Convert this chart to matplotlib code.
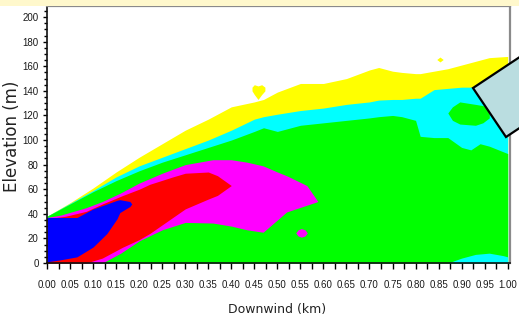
import matplotlib
matplotlib.use("Agg")
import matplotlib.pyplot as plt
from matplotlib import font_manager
from matplotlib.patches import Polygon, Rectangle
import numpy as np

# outer layers (share one x grid), heights in m
x_top = [0.00, 0.05, 0.10, 0.15, 0.20, 0.25, 0.30, 0.35, 0.40, 0.45, 0.47, 0.50,
         0.55, 0.60, 0.65, 0.70, 0.72, 0.75, 0.77, 0.80, 0.81, 0.84, 0.87, 0.90,
         0.92, 0.94, 0.96, 1.00]
yellow_top = [38, 49, 61, 74, 86, 97, 108, 117, 127, 131, 133, 139,
              146, 146, 150, 157, 159, 156, 155, 154, 154, 156, 158, 161,
              163, 165, 167, 168]
cyan_top = [38, 48.5, 59, 70, 79, 86, 93, 100, 108, 117, 119, 121,
            124, 126, 129, 131, 132.5, 133, 133, 134, 134, 141, 142, 143,
            143, 144, 145, 146]
green_top = [38, 48, 58, 67, 75, 82, 88, 94, 100, 107, 110, 107,
             112, 114, 116, 118, 119, 120, 119, 116, 103, 102, 102, 94,
             92, 97, 95, 89]

# plume core
x_mag = [0.0, 0.03, 0.085, 0.12, 0.16, 0.20, 0.25, 0.30, 0.36, 0.40, 0.434,
         0.469, 0.50, 0.52, 0.564, 0.588]
mag_top = [37, 39, 45, 50, 57, 65, 73, 80, 84, 84, 82, 79, 74, 71, 63, 50]
mag_low = [0, 0, 0, 0, 8, 18, 27, 33, 32.5, 30, 27, 25, 35, 41.5, 47, 50]

x_red = [0.0, 0.04, 0.085, 0.12, 0.165, 0.20, 0.223, 0.273, 0.30, 0.35, 0.37, 0.40]
red_top = [36, 38, 42, 48, 55, 60, 64, 70, 73, 74, 71, 63]
red_low = [0, 0, 0, 4, 13, 19, 24, 37, 44, 52, 55, 63]

x_blue = [0.0, 0.028, 0.065, 0.10, 0.13, 0.152, 0.158, 0.18, 0.184]
blue_top = [37, 37, 37, 44, 48, 51, 51.5, 50, 48]
blue_low = [1, 2.5, 5, 13, 24, 36, 41, 46, 48]

# small patches
x_cyan_low = [0.87, 0.90, 0.93, 0.96, 0.99, 1.00]
cyan_low_top = [0, 4, 7, 8, 6, 5]

x_island = [0.87, 0.88, 0.896, 0.93, 0.946, 0.96]
island_top = [122, 127, 131, 129, 128, 126]
island_low = [122, 116, 113, 112, 114, 118]

x_blob = [0.54, 0.545, 0.552, 0.56, 0.565]
blob_top = [24.5, 27, 28, 27, 24.5]
blob_low = [24.5, 22, 21, 22, 24.5]

x_spot1 = [0.445, 0.45, 0.458, 0.466, 0.473]
spot1_top = [143, 145, 144, 145, 143]
spot1_low = [140, 137, 133, 137, 140]
x_spot2 = [0.846, 0.853, 0.860]
spot2_top = [165.5, 167.5, 165.5]
spot2_low = [165.5, 163.5, 165.5]

x_ticks = np.round(np.arange(0, 1.0001, 0.05), 2)
x_labels = ["%.2f" % v for v in x_ticks]
y_ticks = list(range(0, 201, 20))

# pick a narrow face for the tick numbers if one is there
installed = {f.name for f in font_manager.fontManager.ttflist}
tick_font = "DejaVu Sans"
tick_size = 6
for name, size in [("Liberation Sans Narrow", 8), ("DejaVu Sans Condensed", 6.5),
                   ("Liberation Sans", 7), ("Roboto", 7)]:
    if name in installed:
        tick_font, tick_size = name, size
        break

W, H = 519, 323
fig = plt.figure(figsize=(W / 100, H / 100), dpi=100)
fig.patch.set_facecolor("white")

# banner strip at the very top
fig.patches.append(Rectangle((0, 1 - 6 / H), 1, 6 / H, transform=fig.transFigure,
                             facecolor="#fff8cc", edgecolor="none", zorder=0))

ax = fig.add_axes([47 / W, (H - 263) / H, 463 / W, 257 / H])

kw = dict(linewidth=0, antialiased=True)
ax.fill_between(x_top, 0, yellow_top, color="#ffff00", **kw)
ax.fill_between(x_top, 0, cyan_top, color="#00ffff", **kw)
ax.fill_between(x_top, 0, green_top, color="#00ff00", **kw)
ax.fill_between(x_cyan_low, 0, cyan_low_top, color="#00ffff", **kw)
ax.fill_between(x_island, island_low, island_top, color="#00ff00", **kw)
ax.fill_between(x_mag, mag_low, mag_top, color="#ff00ff", **kw)
ax.fill_between(x_blob, blob_low, blob_top, color="#ff00ff", **kw)
ax.fill_between(x_red, red_low, red_top, color="#ff0000", **kw)
ax.fill_between(x_blue, blue_low, blue_top, color="#0000ff", **kw)
ax.fill_between(x_spot1, spot1_low, spot1_top, color="#ffff00", **kw)
ax.fill_between(x_spot2, spot2_low, spot2_top, color="#ffff00", **kw)

ax.set_xlim(0, 1.005)
ax.set_ylim(0, 209)

ax.set_xticks(x_ticks)
ax.set_xticklabels(x_labels, family=tick_font, fontsize=tick_size, color="#1a1a1a")
ax.set_xticks(np.arange(0.025, 1.0, 0.05), minor=True)
ax.set_yticks(y_ticks)
ax.set_yticklabels([str(v) for v in y_ticks], family=tick_font, fontsize=tick_size,
                   color="#1a1a1a")
ax.set_yticks(np.arange(5, 210, 5), minor=True)
ax.tick_params(axis="x", which="both", direction="out", length=4, width=1, pad=8)
ax.tick_params(axis="y", which="major", direction="out", length=3, width=1, pad=3)
ax.tick_params(axis="y", which="minor", direction="out", length=2, width=1)

for side in ("left", "bottom"):
    ax.spines[side].set_color("#111111")
    ax.spines[side].set_linewidth(1.2)
for side in ("top", "right"):
    ax.spines[side].set_color("#8a8a8a")
    ax.spines[side].set_linewidth(1.6)

ax.set_xlabel("Downwind (km)", fontsize=9, color="#222222", va="center")
ax.xaxis.set_label_coords(0.497, -0.18)
ax.set_ylabel("Elevation (m)", fontsize=12, color="#222222", va="center")
ax.yaxis.set_label_coords(-0.075, 0.494)

# callout box poking in from the right edge
corners = [(473, 88), (565, 27), (598, 76), (506, 137)]
fig.patches.append(Polygon([(px / W, 1 - py / H) for px, py in corners],
                           closed=True, transform=fig.transFigure,
                           facecolor="#badde0", edgecolor="black",
                           linewidth=1.6, zorder=5))

fig.savefig("out.png", dpi=100)
